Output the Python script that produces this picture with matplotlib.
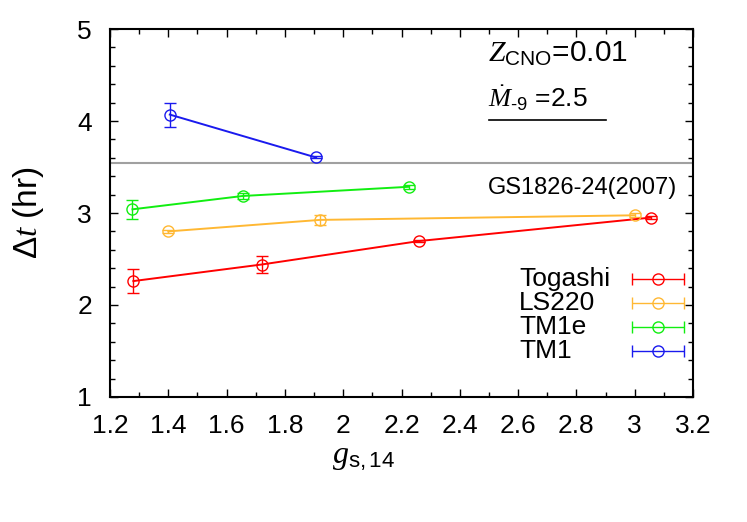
import matplotlib
matplotlib.use("Agg")
import matplotlib.pyplot as plt
import numpy as np

# data
togashi_g = [1.28, 1.72, 2.26, 3.055]
togashi_dt = [2.26, 2.44, 2.695, 2.95]
togashi_err = [0.13, 0.095, 0.01, 0.02]

ls220_g = [1.40, 1.92, 3.00]
ls220_dt = [2.80, 2.925, 2.975]
ls220_err = [0.015, 0.05, 0.02]

tm1e_g = [1.277, 1.655, 2.225]
tm1e_dt = [3.04, 3.185, 3.285]
tm1e_err = [0.10, 0.035, 0.02]

tm1_g = [1.405, 1.905]
tm1_dt = [4.07, 3.605]
tm1_err = [0.13, 0.01]

gs1826_dt = 3.54

series = [
    ("Togashi", togashi_g, togashi_dt, togashi_err, "#ff0000"),
    ("LS220", ls220_g, ls220_dt, ls220_err, "#ffb833"),
    ("TM1e", tm1e_g, tm1e_dt, tm1e_err, "#11ee11"),
    ("TM1", tm1_g, tm1_dt, tm1_err, "#1a1aee"),
]

plt.rcParams["font.family"] = ["Liberation Sans", "DejaVu Sans"]
plt.rcParams["mathtext.fontset"] = "custom"
plt.rcParams["mathtext.rm"] = "Liberation Sans"
plt.rcParams["mathtext.it"] = "Liberation Serif:italic"
plt.rcParams["mathtext.bf"] = "Liberation Sans:bold"

fig = plt.figure(figsize=(7.47, 5.22), dpi=100)
ax = fig.add_axes([0.1473, 0.2395, 0.7804, 0.7049])

ax.axhline(gs1826_dt, color="#a0a0a0", lw=1.5, zorder=1)

for name, g, dt, err, col in series:
    ax.errorbar(g, dt, yerr=err, color=col, lw=1.4, elinewidth=1.0,
                marker="o", ms=8, mfc="none", mec=col, mew=1.0,
                capsize=4, capthick=1.0, zorder=3)

# gnuplot-style key: text left, horizontal error bar sample right
key_y = [0.3207, 0.2554, 0.1902, 0.125]
for (name, g, dt, err, col), ky in zip(series, key_y):
    ax.text(0.7016, ky, name, transform=ax.transAxes, fontsize=19,
            va="center", ha="left")
    ax.errorbar([0.940], [ky], xerr=[0.0446], transform=ax.transAxes,
                color=col, elinewidth=1.0, marker="o", ms=8, mfc="none",
                mec=col, mew=1.0, capsize=4, capthick=1.0, clip_on=False)

ax.text(0.9726, 0.5516, "GS1826-24(2007)", transform=ax.transAxes,
        fontsize=17, ha="right", va="baseline")
ax.text(0.648, 0.910, r"$Z_{\rm CNO}$=0.01", transform=ax.transAxes,
        fontsize=21.5, ha="left", va="baseline")
ax.text(0.648, 0.788, r"$\dot{M}_{\text{-9}}$ =2.5", transform=ax.transAxes,
        fontsize=19, ha="left", va="baseline")
ax.plot([0.650, 0.851], [0.753, 0.753], transform=ax.transAxes,
        color="black", lw=1.2)

ax.set_xlim(1.2, 3.2)
ax.set_ylim(1, 5)
ax.set_xticks(np.arange(1.2, 3.21, 0.2))
ax.set_xticklabels(["1.2", "1.4", "1.6", "1.8", "2", "2.2", "2.4",
                    "2.6", "2.8", "3", "3.2"])
ax.set_xticks(np.arange(1.2, 3.21, 0.1), minor=True)
ax.set_yticks([1, 2, 3, 4, 5])
ax.set_yticks(np.arange(1, 5.01, 0.2), minor=True)

ax.tick_params(which="both", direction="in", top=True, right=True,
               labelsize=19, width=1.0)
ax.tick_params(which="major", length=6)
ax.tick_params(which="minor", length=3.5)
ax.tick_params(axis="x", pad=12)
ax.tick_params(axis="y", pad=13)
for sp in ax.spines.values():
    sp.set_linewidth(1.5)

ax.set_xlabel(r"$g_{\rm s,14}$", fontsize=23)
ax.set_ylabel(r"$\Delta t$ (hr)", fontsize=24)
ax.xaxis.set_label_coords(0.434, -0.125)
ax.yaxis.set_label_coords(-0.11, 0.5)

fig.savefig("out.png", dpi=100)
